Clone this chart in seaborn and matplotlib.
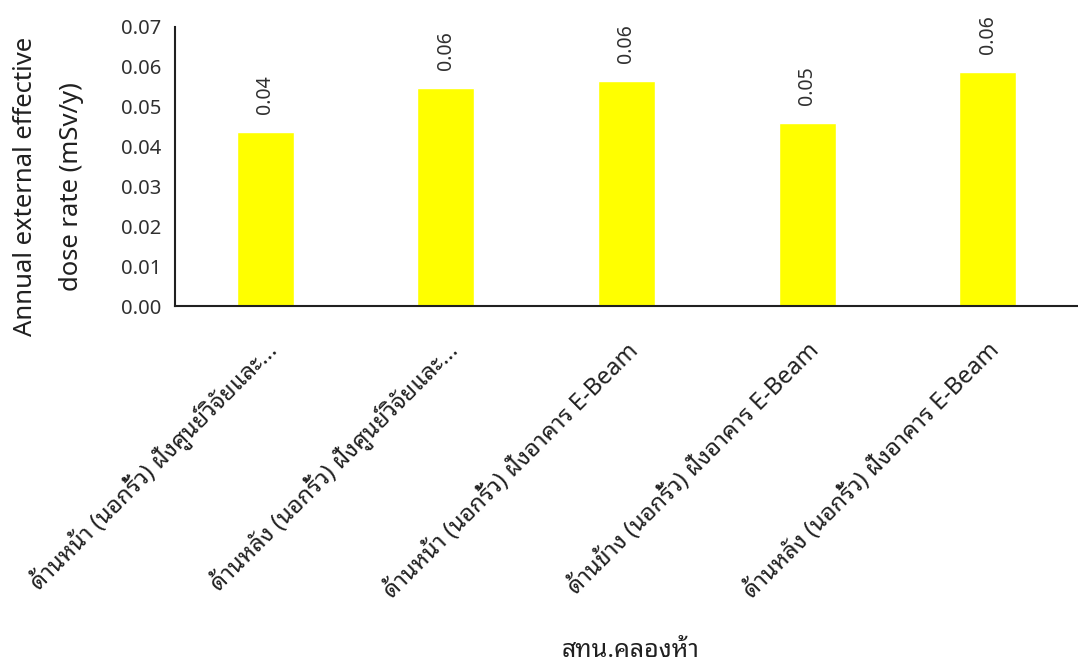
import matplotlib
matplotlib.use("Agg")
import matplotlib.pyplot as plt
from matplotlib import font_manager
from matplotlib.ft2font import FT2Font
import matplotlib.transforms as mtransforms
import seaborn as sns
import pandas as pd

categories = [
    "ด้านหน้า (นอกรั้ว) ฝั่งศูนย์วิจัยและ...",
    "ด้านหลัง (นอกรั้ว) ฝั่งศูนย์วิจัยและ...",
    "ด้านหน้า (นอกรั้ว) ฝั่งอาคาร E-Beam",
    "ด้านข้าง (นอกรั้ว) ฝั่งอาคาร E-Beam",
    "ด้านหลัง (นอกรั้ว) ฝั่งอาคาร E-Beam",
]
values = [0.0437, 0.0548, 0.0565, 0.0460, 0.0586]
value_labels = ["0.04", "0.06", "0.06", "0.05", "0.06"]
y_ticks = [0.00, 0.01, 0.02, 0.03, 0.04, 0.05, 0.06, 0.07]
y_label = "Annual external effective\ndose rate (mSv/y)"
x_label = "สทน.คลองห้า"

sns.set_theme(style="white")

# find a font that covers Thai glyphs
thai_fams = []
seen = set()
for fe in font_manager.fontManager.ttflist:
    if fe.name in seen:
        continue
    try:
        cmap = FT2Font(fe.fname).get_charmap()
    except Exception:
        continue
    if 0x0E14 in cmap and 0x0E49 in cmap:
        thai_fams.append(fe.name)
        seen.add(fe.name)
pref = [f for f in thai_fams if "Noto" in f] + [f for f in thai_fams if "Noto" not in f]
families = ["Noto Sans"] + pref[:1] + ["DejaVu Sans"]
plt.rcParams["font.family"] = families

df = pd.DataFrame({"cat": categories, "val": values})

fig = plt.figure(figsize=(10.78, 6.66), dpi=100)
ax = fig.add_axes([0.1623, 0.5405, 0.8377, 0.419])
sns.barplot(data=df, x="cat", y="val", color="#FFFF00", saturation=1,
            width=0.315, ax=ax)

ax.set_ylim(0, 0.07)
ax.set_yticks(y_ticks)
ax.set_yticklabels([f"{t:.2f}" for t in y_ticks], fontsize=14.5, color="#303030")
ax.tick_params(axis="y", length=0, pad=10)
ax.tick_params(axis="x", length=0, pad=0)
ax.set_xticks(range(len(categories)))
ax.set_xticklabels(categories, rotation=45, ha="right", va="center",
                   rotation_mode="anchor", fontsize=17, color="#202020")
for lbl in ax.get_xticklabels():
    lbl.set_transform(lbl.get_transform() + mtransforms.ScaledTranslation(0.08, -0.41, fig.dpi_scale_trans))

for i, (v, t) in enumerate(zip(values, value_labels)):
    ax.annotate(t, (i, v), xytext=(0, 13), textcoords="offset points",
                rotation=90, ha="center", va="bottom", fontsize=14, color="#303030")

for s in ["top", "right"]:
    ax.spines[s].set_visible(False)
for s in ["left", "bottom"]:
    ax.spines[s].set_color("#202020")
    ax.spines[s].set_linewidth(1.5)

ax.set_ylabel(y_label, fontsize=18.5, color="#202020",
              linespacing=2.1, ha="center", va="center")
ax.yaxis.set_label_coords(-0.1403, 0.427)
ax.set_xlabel("")
fig.text(0.585, 0.005, x_label, fontsize=18, fontweight="bold", ha="center",
         va="bottom", color="#202020")

fig.savefig("out.png", dpi=100)
